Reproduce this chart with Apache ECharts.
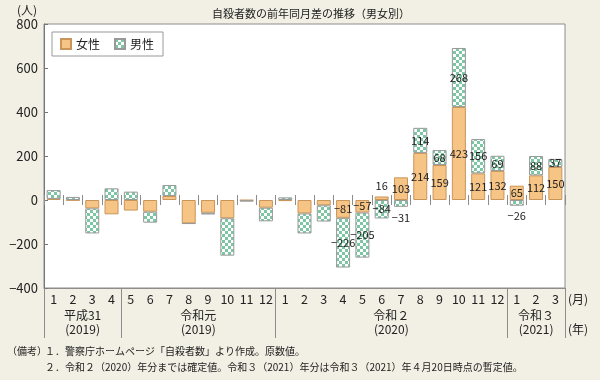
<!DOCTYPE html>
<html><head><meta charset="utf-8">
<script src="https://cdn.jsdelivr.net/npm/echarts@6/dist/echarts.min.js"></script>
<style>html,body{margin:0;padding:0;background:#f2efe4}#c{width:600px;height:380px}</style>
</head><body><div id="c"></div>
<script>
const months = ['1','2','3','4','5','6','7','8','9','10','11','12','1','2','3','4','5','6','7','8','9','10','11','12','1','2','3'];
const female = [5,-2,-38,-65,-48,-53,18,-106,-58,-83,-2,-35,-5,-61,-24,-81,-57,16,103,214,159,423,121,132,65,112,150];
const male = [40,14,-114,53,38,-50,50,-2,-8,-170,-5,-62,12,-91,-74,-226,-205,-84,-31,114,68,268,156,69,-26,88,37];
const yTicks = {min:-400, max:800, step:200};
const labelFromIndex = 15;
const yearGroups = [
  ['平成31','(2019)',0,3],
  ['令和元','(2019)',4,11],
  ['令和２','(2020)',12,23],
  ['令和３','(2021)',24,26]
];
const femaleLabelPos = {17:'top'};
const maleLabelPos = {18:'bottom',24:'bottom'};
const title = '自殺者数の前年同月差の推移（男女別）';
const notes = ['１．警察庁ホームページ「自殺者数」より作成。原数値。',
               '２．令和２（2020）年分までは確定値。令和３（2021）年分は令和３（2021）年４月20日時点の暫定値。'];

const FONT = '"Noto Sans CJK JP", "Noto Sans", sans-serif';
const ORANGE = '#f6c485';
const ORANGE_B = '#c9955a';
const GREEN = '#7dc6a3';

const cv = document.createElement('canvas');
cv.width = 6; cv.height = 6;
const cx = cv.getContext('2d');
cx.fillStyle = '#ffffff'; cx.fillRect(0,0,6,6);
cx.fillStyle = GREEN; cx.fillRect(0,0,3,3); cx.fillRect(3,3,3,3);

const minus = v => v < 0 ? '−' + Math.abs(v) : String(v);
function mk(arr, posMap){
  return arr.map((v,i)=>({
    value: v,
    label: {show: i >= labelFromIndex, position: posMap[i] || 'inside'}
  }));
}
const labelStyle = {fontSize: 11, color: '#222', fontFamily: FONT, formatter: p => minus(p.value)};

const chart = echarts.init(document.getElementById('c'), null, {renderer:'canvas'});
const gridBox = {left:44, right:35, top:24, bottom:92, outerBoundsMode:'none', containLabel:false};
chart.setOption({
  backgroundColor: '#f2efe4',
  animation: false,
  textStyle: {fontFamily: FONT},
  title: {text: title, left: 207, top: 3, textStyle:{fontSize: 11, fontWeight:'normal', color:'#222', fontFamily: FONT}},
  legend: {
    left: 52, top: 32, orient:'horizontal',
    backgroundColor:'#fff', borderColor:'#999', borderWidth:1, padding:[6,9,6,8],
    itemWidth: 10, itemHeight: 10, itemGap: 14,
    textStyle: {fontSize: 12, color:'#222', fontFamily: FONT},
    data: [{name:'女性', icon:'rect'}, {name:'男性', icon:'rect'}]
  },
  grid: [
    Object.assign({show:true, backgroundColor:'#fff', borderColor:'#8c8c8c', borderWidth:1}, gridBox),
    Object.assign({show:false}, gridBox)
  ],
  xAxis: [
    {type:'category', gridIndex:0, data: months, position:'bottom',
     axisLine:{onZero:false, lineStyle:{color:'#8c8c8c'}},
     axisTick:{show:true, length:50, interval: i => (i===0||i===4||i===12||i===24), lineStyle:{color:'#8c8c8c'}},
     axisLabel:{fontSize:12.5, color:'#222', margin:5, interval:0, fontFamily: FONT}},
    {type:'category', gridIndex:0, data: months, position:'top',
     axisLine:{show:false, onZero:true},
     axisTick:{show:true, length:5, lineStyle:{color:'#8c8c8c'}},
     axisLabel:{show:false}},
    {type:'category', gridIndex:1, data: months, position:'top',
     axisLine:{show:false, onZero:true},
     axisTick:{show:true, inside:true, length:5, lineStyle:{color:'#8c8c8c'}},
     axisLabel:{show:false}}
  ],
  yAxis: [
    {type:'value', gridIndex:0, min:yTicks.min, max:yTicks.max, interval:yTicks.step,
     axisLine:{show:true, lineStyle:{color:'#777'}},
     axisTick:{show:true, inside:true, length:4, lineStyle:{color:'#777'}},
     splitLine:{show:false},
     axisLabel:{fontSize:13, color:'#222', margin:6, formatter: v => minus(v), fontFamily: FONT}},
    {type:'value', gridIndex:1, min:yTicks.min, max:yTicks.max, interval:yTicks.step, show:false}
  ],
  series: [
    {name:'女性', type:'bar', stack:'total', xAxisIndex:0, yAxisIndex:0, barWidth:14,
     data: mk(female, femaleLabelPos),
     itemStyle:{color: ORANGE, borderColor: ORANGE_B, borderWidth: 1},
     label: labelStyle},
    {name:'男性', type:'bar', stack:'total', xAxisIndex:0, yAxisIndex:0, barWidth:14,
     data: mk(male, maleLabelPos),
     itemStyle:{color: {image: cv, repeat:'repeat'}, borderColor:'#999', borderWidth: 1},
     label: labelStyle}
  ]
});

const px = i => chart.convertToPixel({xAxisIndex:0}, i);
const bottomY = chart.convertToPixel({yAxisIndex:0}, yTicks.min);
const g = [];
yearGroups.forEach(([a,b,s,e])=>{
  const x = (px(s)+px(e))/2;
  g.push({type:'text', x:x, y:bottomY+27, style:{text:a, fill:'#222', align:'center', verticalAlign:'middle', font:'12px '+FONT}});
  g.push({type:'text', x:x, y:bottomY+41, style:{text:b, fill:'#222', align:'center', verticalAlign:'middle', font:'12px '+FONT}});
});
g.push({type:'text', x:578, y:bottomY+11, style:{text:'(月)', fill:'#222', align:'center', verticalAlign:'middle', font:'12px '+FONT}});
g.push({type:'text', x:578, y:bottomY+41, style:{text:'(年)', fill:'#222', align:'center', verticalAlign:'middle', font:'12px '+FONT}});
g.push({type:'text', x:27, y:10, style:{text:'(人)', fill:'#222', align:'center', verticalAlign:'middle', font:'12px '+FONT}});
g.push({type:'text', x:7, y:351, style:{text:'（備考）', fill:'#222', align:'left', verticalAlign:'middle', font:'10px '+FONT}});
g.push({type:'text', x:45, y:351, style:{text:notes[0], fill:'#222', align:'left', verticalAlign:'middle', font:'10px '+FONT}});
g.push({type:'text', x:45, y:367, style:{text:notes[1], fill:'#222', align:'left', verticalAlign:'middle', font:'10px '+FONT}});
chart.setOption({graphic: g});
</script></body></html>
